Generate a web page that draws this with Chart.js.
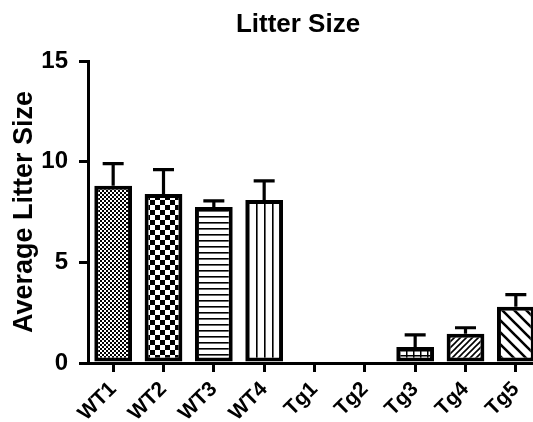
<!DOCTYPE html>
<html>
<head>
<meta charset="utf-8">
<script src="https://cdn.jsdelivr.net/npm/chart.js@4.4.1/dist/chart.umd.min.js"></script>
<style>
  html, body { margin: 0; padding: 0; background: #fff; overflow: hidden; }
  #wrap { width: 533px; height: 422px; overflow: hidden; }
</style>
</head>
<body>
<div id="wrap"><canvas id="litter" width="542" height="422"></canvas></div>
<script>
// values
const groups   = ['WT1', 'WT2', 'WT3', 'WT4', 'Tg1', 'Tg2', 'Tg3', 'Tg4', 'Tg5'];
const means    = [8.8, 8.4, 7.75, 8.1, 0, 0, 0.8, 1.45, 2.8];
const sem      = [1.1, 1.2, 0.3, 0.95, 0, 0, 0.6, 0.3, 0.6];
const yTicks   = [0, 5, 10, 15];

const FONT = "'Liberation Sans', Arial, sans-serif";

// little tile patterns, one per bar
function tile(w, h, draw) {
  const c = document.createElement('canvas');
  c.width = w; c.height = h;
  const g = c.getContext('2d');
  g.fillStyle = '#fff';
  g.fillRect(0, 0, w, h);
  g.fillStyle = '#000';
  g.strokeStyle = '#000';
  draw(g, w, h);
  return document.getElementById('litter').getContext('2d').createPattern(c, 'repeat');
}

const patterns = [
  // fine checkerboard
  tile(4, 4, g => { g.fillRect(0, 0, 2, 2); g.fillRect(2, 2, 2, 2); }),
  // coarse checkerboard
  tile(10, 10, g => { g.fillRect(0, 0, 5, 5); g.fillRect(5, 5, 5, 5); }),
  // horizontal lines
  tile(4, 6, g => { g.fillRect(0, 0, 4, 1.6); }),
  // vertical lines
  tile(8, 4, g => { g.fillRect(0, 0, 1.6, 4); }),
  '#fff',
  '#fff',
  // small grid
  tile(7, 5, g => { g.fillRect(0, 0, 7, 1.5); g.fillRect(0, 0, 1.5, 5); }),
  // fine forward hatch
  tile(6, 6, g => {
    g.lineWidth = 1.6;
    g.beginPath();
    g.moveTo(-1, 7); g.lineTo(7, -1);
    g.moveTo(-4, 4); g.lineTo(4, -4);
    g.moveTo(2, 10); g.lineTo(10, 2);
    g.stroke();
  }),
  // wide backward hatch
  tile(12, 12, g => {
    g.lineWidth = 2.6;
    g.beginPath();
    g.moveTo(-2, -2); g.lineTo(14, 14);
    g.moveTo(-14, -2); g.lineTo(2, 14);
    g.moveTo(10, -2); g.lineTo(26, 14);
    g.stroke();
  })
];

const titlePlugin = {
  id: 'plotTitle',
  afterDraw(chart) {
    const ctx = chart.ctx;
    ctx.save();
    ctx.font = 'bold 26px ' + FONT;
    ctx.fillStyle = '#000';
    ctx.textAlign = 'center';
    ctx.textBaseline = 'alphabetic';
    ctx.fillText('Litter Size', 298, 32);
    ctx.restore();
  }
};

// upper-only SEM whiskers
const errorBars = {
  id: 'errorBars',
  afterDatasetsDraw(chart) {
    const ctx = chart.ctx;
    const y = chart.scales.y;
    const meta = chart.getDatasetMeta(0);
    ctx.save();
    ctx.strokeStyle = '#000';
    ctx.lineWidth = 3.2;
    meta.data.forEach((bar, i) => {
      if (!sem[i]) return;
      const top = y.getPixelForValue(means[i] + sem[i]);
      ctx.beginPath();
      ctx.moveTo(bar.x, bar.y);
      ctx.lineTo(bar.x, top);
      ctx.moveTo(bar.x - 10.5, top);
      ctx.lineTo(bar.x + 10.5, top);
      ctx.stroke();
    });
    ctx.restore();
  }
};

new Chart(document.getElementById('litter'), {
  type: 'bar',
  data: {
    labels: groups,
    datasets: [{
      data: means,
      backgroundColor: patterns,
      borderColor: '#000',
      borderWidth: 4,
      borderSkipped: false,
      barPercentage: 0.75,
      categoryPercentage: 1
    }]
  },
  options: {
    responsive: false,
    animation: false,
    layout: { padding: { top: 61, left: 0, right: 1, bottom: 0 } },
    plugins: {
      legend: { display: false },
      tooltip: { enabled: false }
    },
    scales: {
      x: {
        grid: { offset: false, drawOnChartArea: false, drawTicks: true, tickLength: 9, lineWidth: 3, color: '#000' },
        border: { color: '#000', width: 3 },
        ticks: {
          color: '#000',
          font: { family: FONT, size: 21, weight: 'bold' },
          minRotation: 45,
          maxRotation: 45,
          padding: 5
        },
        afterFit: s => { s.height = 59; }
      },
      y: {
        min: 0,
        max: 15,
        afterBuildTicks: s => { s.ticks = yTicks.map(v => ({ value: v })); },
        grid: { drawOnChartArea: false, drawTicks: true, tickLength: 9, lineWidth: 3, color: '#000' },
        border: { color: '#000', width: 3 },
        ticks: {
          color: '#000',
          font: { family: FONT, size: 24, weight: 'bold' },
          padding: 11
        },
        title: {
          display: true,
          text: 'Average Litter Size',
          color: '#000',
          font: { family: FONT, size: 27, weight: 'bold' },
          padding: { top: 8, bottom: 0 }
        },
        afterFit: s => { s.width = 88; }
      }
    }
  },
  plugins: [errorBars, titlePlugin]
});
</script>
</body>
</html>
